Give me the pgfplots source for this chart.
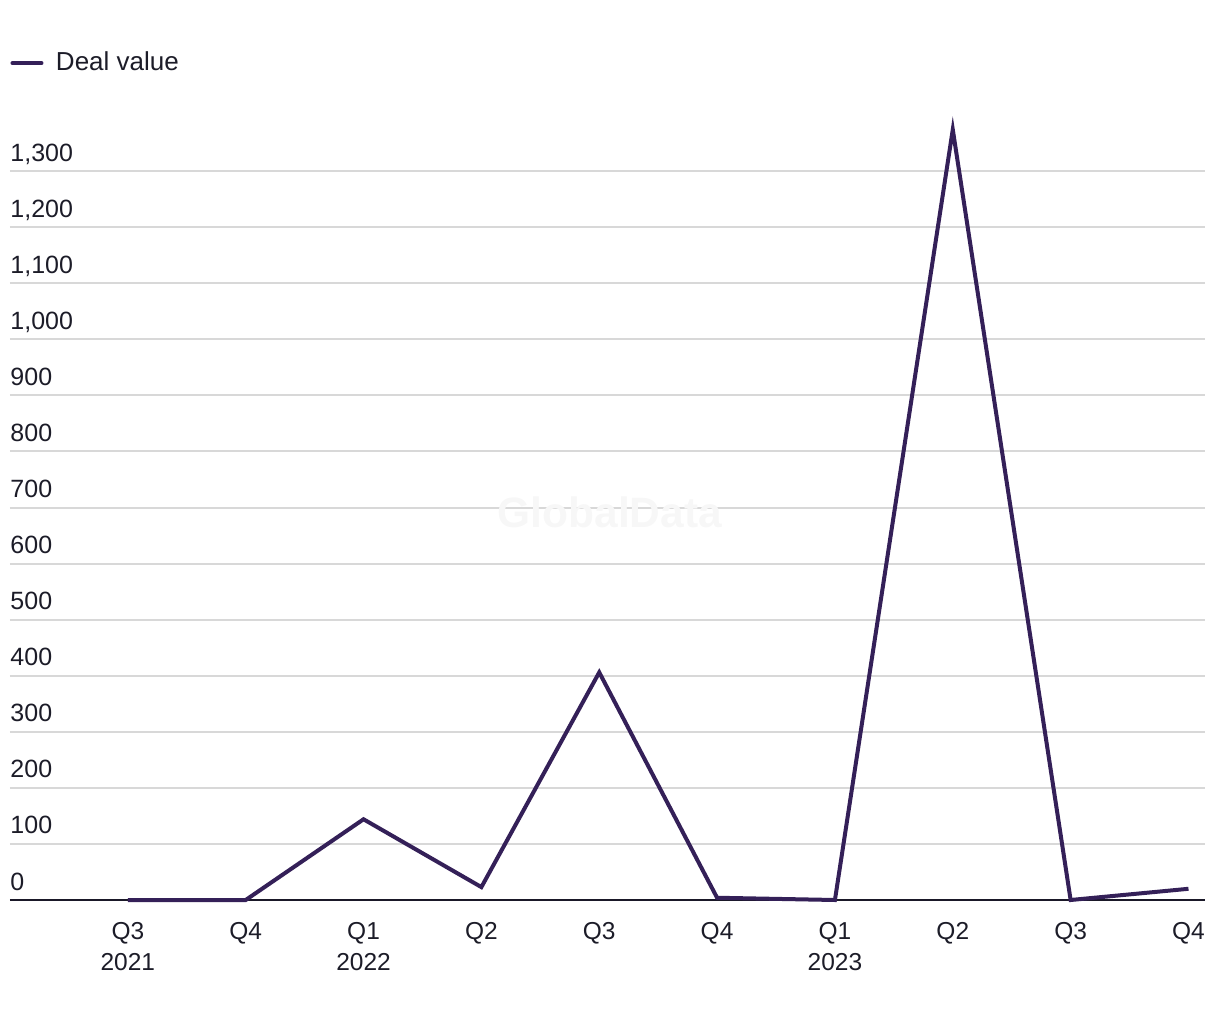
\documentclass[border=0pt]{standalone}
\usepackage{fontspec}
\setmainfont{Liberation Sans}
\usepackage{pgfplots}
\pgfplotsset{compat=1.18}
\definecolor{dealline}{RGB}{52,32,88}
\definecolor{axisdark}{RGB}{26,24,40}
\definecolor{gridgray}{RGB}{216,216,216}
\definecolor{txt}{RGB}{28,28,40}
\begin{document}
\begin{tikzpicture}
% 1px = 0.4pt; plot area SW corner at pixel (10,900)
\useasboundingbox (-4pt,-48pt) rectangle (484pt,360pt);
\begin{axis}[
    at={(0,0)}, anchor=south west,
    scale only axis,
    width=478pt, height=314pt,
    xmin=-1.0, xmax=9.14,
    ymin=0, ymax=1400,
    axis x line*=bottom, axis y line*=left,
    x axis line style={-, axisdark, line width=0.8pt},
    y axis line style={draw=none},
    xtick={0,...,9},
    xticklabels={{Q3\\2021},Q4,{Q1\\2022},Q2,Q3,Q4,{Q1\\2023},Q2,Q3,Q4},
    xticklabel style={align=center, font=\fontsize{9.8}{12.4}\selectfont, text=txt, yshift=-5.6pt},
    ytick={0,100,...,1300},
    yticklabel style={anchor=base west, inner sep=0pt, xshift=0pt, yshift=4pt, font=\fontsize{10}{12}\selectfont, text=txt},
    /pgf/number format/assume math mode=true,
    /pgf/number format/1000 sep={,},
    major tick length=0pt,
    ymajorgrids,
    major grid style={gridgray, line width=0.8pt},
    clip=false,
    legend style={at={(0,1)}, anchor=south west, yshift=14pt, draw=none, fill=none,
        font=\fontsize{10.4}{12}\selectfont, text=txt, inner sep=0pt,
        /tikz/every even column/.append style={column sep=0pt}},
    legend cell align=left,
    legend image code/.code={\draw[#1, line width=1.6pt, line cap=round] (0.4pt,0pt) -- (12pt,0pt);},
]
\node[font=\bfseries\fontsize{17}{20}\selectfont, text=gray!6] at (axis cs:4.09,692) {GlobalData};
\addplot[dealline, line width=1.6pt, line join=miter] coordinates {
    (0,0) (1,0) (2,144) (3,23) (4,406) (5,4) (6,0) (7,1374) (8,0) (9,20)
};
\addlegendentry{\hspace{3pt}Deal value}
\end{axis}
\end{tikzpicture}
\end{document}
